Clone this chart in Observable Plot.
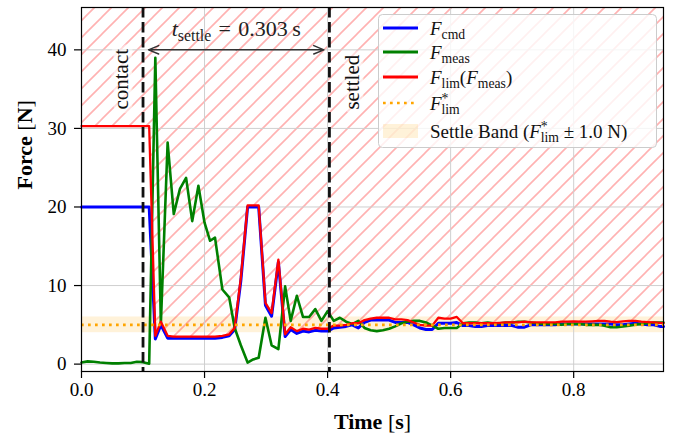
<!DOCTYPE html>
<html><head><meta charset="utf-8">
<script src="https://cdn.jsdelivr.net/npm/d3@7"></script>
<script src="https://cdn.jsdelivr.net/npm/@observablehq/plot@0.6"></script>
<style>body{margin:0;background:#fff} svg{display:block} text{white-space:pre}</style>
</head><body><div id="chart"></div>
<script>
// ---- data ----
const time = [0.00,0.01,0.02,0.03,0.04,0.05,0.06,0.07,0.08,0.09,0.10,0.11,
  0.12,0.129,0.14,0.15,0.16,0.17,0.18,0.19,0.20,0.209,0.217,0.229,0.24,0.249,0.259,0.27,0.279,0.288,0.299,0.309,0.32,0.331,
  0.34,0.35,0.36,0.37,0.38,0.39,0.40,0.41,0.42,0.43,
  0.44,0.45,0.46,0.47,0.48,0.49,0.50,0.51,0.52,0.53,
  0.54,0.55,0.56,0.57,0.58,0.59,0.60,0.61,0.62,0.63,
  0.64,0.65,0.66,0.67,0.68,0.69,0.70,0.71,0.72,0.73,
  0.74,0.75,0.76,0.77,0.78,0.79,0.80,0.81,0.82,0.83,
  0.84,0.85,0.86,0.87,0.88,0.89,0.90,0.91,0.92,0.93,
  0.94,0.946];
const fCmd = [20,20,20,20,20,20,20,20,20,20,20,20,
  3.2,5.0,3.3,3.3,3.3,3.3,3.3,3.3,3.3,3.3,3.3,3.4,3.6,4.4,10.6,20.0,20.0,20.0,7.5,6.1,13.0,3.5,
  4.4,3.9,4.2,4.1,4.3,4.2,4.2,4.6,4.7,4.8,
  5.0,4.6,5.3,5.6,5.6,5.6,5.6,5.3,5.3,5.3,
  5.0,4.6,4.4,4.4,5.2,5.2,5.2,5.3,4.9,4.9,
  4.8,4.8,4.9,4.9,4.9,4.9,4.9,4.7,4.7,5.0,
  5.0,5.0,5.0,5.0,5.1,5.1,5.1,5.1,5.1,5.1,
  5.1,5.1,5.1,5.0,5.0,5.1,5.2,5.1,5.0,5.0,
  4.8,4.8];
const fMeas = [0.2,0.35,0.3,0.2,0.15,0.1,0.1,0.15,0.15,0.3,0.25,0.05,
  39.0,5.1,28.2,19.1,22.3,23.7,18.2,22.7,18.0,15.7,16.1,9.5,8.5,4.6,2.4,0.2,0.6,0.8,5.9,2.4,1.9,9.9,
  5.5,8.7,6.0,6.0,7.0,5.5,6.75,5.5,5.9,5.4,
  5.1,5.5,4.6,4.3,4.2,4.3,4.5,4.8,5.2,5.4,
  5.5,5.5,5.3,4.9,4.5,4.6,4.6,4.6,5.2,5.3,
  5.3,5.2,5.3,5.2,5.2,5.3,5.3,5.4,5.4,5.3,
  5.2,5.1,5.1,5.1,5.0,5.1,5.1,5.1,5.0,5.0,
  5.0,4.9,4.7,4.7,4.8,4.9,5.0,5.1,5.2,5.3,
  5.3,5.3];
const fLim = [30.3,30.3,30.3,30.3,30.3,30.3,30.3,30.3,30.3,30.3,30.3,30.3,
  3.6,5.4,3.6,3.5,3.5,3.5,3.5,3.5,3.5,3.5,3.5,3.6,3.8,4.6,11.0,20.2,20.2,20.2,7.8,6.5,13.3,3.8,
  4.7,4.2,4.5,4.4,4.6,4.5,4.5,4.9,4.9,5.0,
  5.2,5.2,5.6,5.8,5.9,5.9,5.9,5.7,5.7,5.6,
  5.3,5.0,4.9,4.9,5.9,5.8,5.8,6.0,5.2,5.2,
  5.2,5.2,5.2,5.2,5.25,5.3,5.3,5.3,5.4,5.3,
  5.3,5.3,5.3,5.3,5.4,5.4,5.45,5.4,5.4,5.45,
  5.5,5.5,5.4,5.35,5.45,5.5,5.5,5.4,5.35,5.3,
  5.25,5.2];
const fLimStar = 5.0;
const bandHalf = 1.0;
const tContact = 0.1;
const tSettled = 0.403;
const tSettle = 0.303;
const arrowForce = 40;
const labelForce = 32.4;
const xTicks = [0, 0.2, 0.4, 0.6, 0.8];
const yTicks = [0, 10, 20, 30, 40];
const xDomain = [0, 0.946];
const yDomain = [-0.94, 45.39];

const rows = time.map((t, i) => ({t, cmd: fCmd[i], meas: fMeas[i], lim: fLim[i]}));
const FONT = "'Liberation Serif', 'Times New Roman', serif";
const mid = (tContact + tSettled) / 2;

const K_SETTLE = "__tsettle__", K_X = "__xlabel__", K_Y = "__ylabel__";

const plot = Plot.plot({
  width: 673, height: 436,
  marginLeft: 81, marginRight: 10, marginTop: 7, marginBottom: 65,
  style: {fontFamily: FONT, fontSize: "19px", color: "black", background: "white", overflow: "visible"},
  x: {domain: xDomain, ticks: xTicks, tickFormat: d3.format(".1f"), tickSize: 7, tickPadding: 4, label: null},
  y: {domain: yDomain, ticks: yTicks, tickSize: 7, tickPadding: 8, label: null},
  marks: [
    Plot.rect([{lo: fLimStar - bandHalf, hi: fLimStar + bandHalf}], {x1: xDomain[0], x2: xDomain[1], y1: "lo", y2: "hi", fill: "orange", fillOpacity: 0.15}),
    Plot.areaY(rows, {x: "t", y1: "lim", y2: yDomain[1], fill: "url(#hatch)"}),
    Plot.ruleX(xTicks, {stroke: "#cfcfcf", strokeWidth: 1}),
    Plot.ruleY(yTicks, {stroke: "#cfcfcf", strokeWidth: 1}),
    Plot.line(rows, {x: "t", y: "cmd", stroke: "#0000ff", strokeWidth: 3}),
    Plot.line(rows, {x: "t", y: "meas", stroke: "#008000", strokeWidth: 2.6}),
    Plot.line(rows, {x: "t", y: "lim", stroke: "#ff0000", strokeWidth: 2.3}),
    Plot.ruleY([fLimStar], {stroke: "orange", strokeWidth: 2.7, strokeDasharray: "2.7,4.3"}),
    Plot.ruleX([tContact, tSettled], {stroke: "#111", strokeWidth: 2.8, strokeDasharray: "10.5,4.5"}),
    Plot.arrow([{a: mid, b: tContact}, {a: mid, b: tSettled}], {x1: "a", x2: "b", y1: arrowForce, y2: arrowForce, stroke: "#333", strokeWidth: 1.5, headLength: 11, headAngle: 45, insetEnd: 5.5}),
    Plot.text([{x: mid, y: arrowForce}], {x: "x", y: "y", text: () => K_SETTLE, dy: -14, lineAnchor: "bottom", fontSize: 22, fill: "#222"}),
    Plot.text([{x: tContact, y: labelForce}], {x: "x", y: "y", text: () => "contact", rotate: -90, textAnchor: "start", lineAnchor: "bottom", dx: -15, fontSize: 21, fill: "#111", stroke: "white", strokeWidth: 9, strokeOpacity: 0.55, strokeLinejoin: "round", paintOrder: "stroke"}),
    Plot.text([{x: tSettled, y: labelForce}], {x: "x", y: "y", text: () => "settled", rotate: -90, textAnchor: "start", lineAnchor: "top", dx: 15, fontSize: 21, fill: "#111", stroke: "white", strokeWidth: 9, strokeOpacity: 0.55, strokeLinejoin: "round", paintOrder: "stroke"}),
    Plot.frame({stroke: "black", strokeWidth: 1.2}),
    Plot.text([{}], {frameAnchor: "bottom", text: () => K_X, dy: 57, lineAnchor: "bottom", fontSize: 22}),
    Plot.text([{}], {frameAnchor: "left", text: () => K_Y, rotate: -90, dx: -50, lineAnchor: "bottom", fontSize: 22})
  ]
});

const NS = "http://www.w3.org/2000/svg";
function rich(el, parts, size) {
  while (el.firstChild) el.removeChild(el.firstChild);
  let shift = 0;
  for (const p of parts) {
    const ts = document.createElementNS(NS, "tspan");
    const target = p.sub ? size * 0.24 : p.sup ? -size * 0.34 : 0;
    if (target - shift !== 0) ts.setAttribute("dy", target - shift);
    shift = target;
    if (p.sub || p.sup) ts.setAttribute("font-size", size * 0.72);
    if (p.it) ts.setAttribute("font-style", "italic");
    if (p.b) ts.setAttribute("font-weight", "bold");
    if (p.dx) ts.setAttribute("dx", p.dx);
    ts.textContent = p.t;
    el.appendChild(ts);
  }
}
const svg = d3.select(plot);
svg.selectAll("text").each(function () {
  const c = this.textContent;
  if (c === K_SETTLE) rich(this, [{t: "t", it: true}, {t: "settle", sub: true}, {t: "\u2004=\u20040.303\u2009s"}], 22);
  else if (c === K_X) rich(this, [{t: "Time", b: true}, {t: " ["}, {t: "s", b: true}, {t: "]"}], 22);
  else if (c === K_Y) rich(this, [{t: "Force", b: true}, {t: " ["}, {t: "N", b: true}, {t: "]"}], 22);
});
svg.selectAll('[aria-label$="tick"] path, [aria-label$="tick"] line').attr("stroke-width", 1.2);

// hatch pattern
const H = 17;
const defs = svg.insert("defs", ":first-child");
const pat = defs.append("pattern").attr("id", "hatch").attr("patternUnits", "userSpaceOnUse")
  .attr("width", H).attr("height", H);
pat.append("path").attr("d", `M0,${H} L${H},0 M-4,4 L4,-4 M${H - 4},${H + 4} L${H + 4},${H - 4}`)
  .attr("stroke", "#ff0000").attr("stroke-opacity", 0.3).attr("stroke-width", 1.6).attr("fill", "none");

// legend
const L = 19;
const lg = svg.append("g").attr("font-family", FONT).attr("font-size", L).attr("fill", "#111").attr("text-anchor", "start");
lg.append("rect").attr("x", 378.5).attr("y", 14.5).attr("width", 278).attr("height", 133).attr("rx", 4)
  .attr("fill", "white").attr("fill-opacity", 0.8).attr("stroke", "#cccccc");
const entries = [
  {y: 28, kind: "line", color: "#0000ff", parts: [{t: "F", it: true}, {t: "cmd", sub: true}]},
  {y: 52, kind: "line", color: "#008000", parts: [{t: "F", it: true}, {t: "meas", sub: true}]},
  {y: 77, kind: "line", color: "#ff0000", parts: [{t: "F", it: true}, {t: "lim", sub: true}, {t: "("}, {t: "F", it: true}, {t: "meas", sub: true}, {t: ")"}]},
  {y: 103, kind: "dot", color: "orange", parts: [{t: "F", it: true}, {t: "*", sup: true}, {t: "lim", sub: true, dx: -7}]},
  {y: 131, kind: "patch", color: "orange", parts: [{t: "Settle Band ("}, {t: "F", it: true}, {t: "*", sup: true}, {t: "lim", sub: true, dx: -7}, {t: " \u00b1 1.0 N)"}]}
];
for (const e of entries) {
  if (e.kind === "line") lg.append("line").attr("x1", 383).attr("x2", 418).attr("y1", e.y).attr("y2", e.y).attr("stroke", e.color).attr("stroke-width", 3);
  else if (e.kind === "dot") lg.append("line").attr("x1", 383).attr("x2", 418).attr("y1", e.y).attr("y2", e.y).attr("stroke", e.color).attr("stroke-width", 2.7).attr("stroke-dasharray", "2.7,4.3");
  else lg.append("rect").attr("x", 383).attr("y", e.y - 7).attr("width", 35).attr("height", 14).attr("fill", e.color).attr("fill-opacity", 0.15);
  const tx = lg.append("text").attr("x", 430).attr("y", e.y + 6.5);
  rich(tx.node(), e.parts, L);
}

document.getElementById("chart").appendChild(plot);
</script>
</body></html>
